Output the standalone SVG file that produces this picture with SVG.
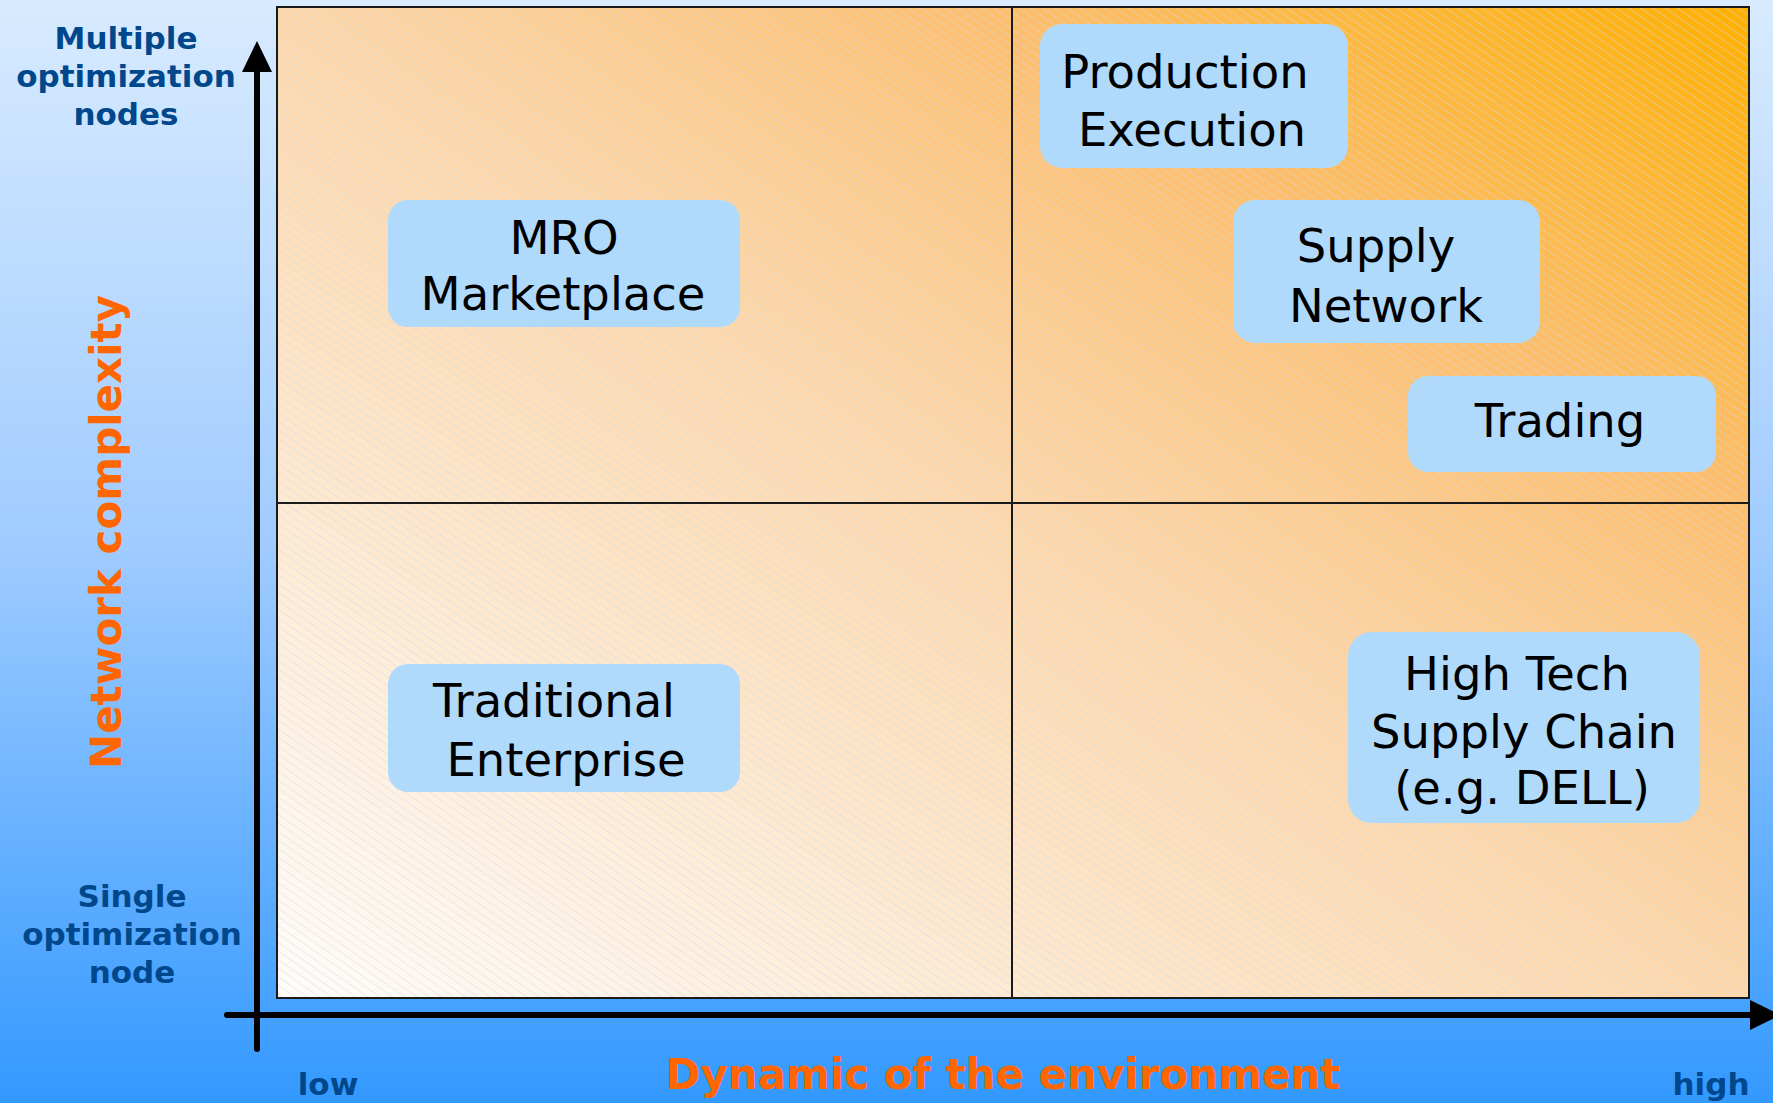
<svg xmlns="http://www.w3.org/2000/svg" width="1773" height="1103" viewBox="0 0 1773 1103">
  <defs>
    <linearGradient id="bg" x1="0" y1="0" x2="0" y2="1">
      <stop offset="0" stop-color="#d8ebff"/>
      <stop offset="0.5" stop-color="#9fcbff"/>
      <stop offset="1" stop-color="#3399ff"/>
    </linearGradient>
    <linearGradient id="chart" x1="0" y1="1" x2="1" y2="0">
      <stop offset="0" stop-color="#fffcf9"/>
      <stop offset="0.5" stop-color="#fdd7aa"/>
      <stop offset="0.75" stop-color="#fdbe6c"/>
      <stop offset="1" stop-color="#ffb000"/>
    </linearGradient>
    <pattern id="hatch" width="7" height="7" patternUnits="userSpaceOnUse" patternTransform="rotate(35)">
      <line x1="0" y1="3.5" x2="7" y2="3.5" stroke="#c8dcf0" stroke-width="1" stroke-opacity="0.45"/>
    </pattern>
    <marker id="arrow" markerUnits="userSpaceOnUse" markerWidth="32" markerHeight="32" refX="0" refY="15" orient="auto">
      <path d="M0,0 L31,15 L0,30 Z" fill="#000"/>
    </marker>
    <style>
      .node rect { fill: #b0dafc; }
      .node text { font-family: "DejaVu Sans", Verdana, sans-serif; font-size: 46.5px; fill: #000; text-anchor: middle; }
      .lbl { font-family: "DejaVu Sans", Verdana, sans-serif; font-weight: bold; font-size: 31px; fill: #00478c; text-anchor: middle; }
      .title { font-family: "DejaVu Sans", Verdana, sans-serif; font-weight: bold; font-size: 42px; fill: #ff6600; text-anchor: middle; }
      .axis { stroke: #000; stroke-width: 6; stroke-linecap: round; fill: none; }
    </style>
  </defs>

  <rect x="0" y="0" width="1773" height="1103" fill="url(#bg)"/>

  <g id="chart-area">
    <rect x="277" y="7" width="1472" height="991" fill="url(#chart)"/>
    <rect x="277" y="7" width="1472" height="991" fill="url(#hatch)"/>
    <rect x="277" y="7" width="1472" height="991" fill="none" stroke="#1a1a1a" stroke-width="2"/>
    <line x1="1012" y1="7" x2="1012" y2="998" stroke="#1a1a1a" stroke-width="2"/>
    <line x1="277" y1="503" x2="1749" y2="503" stroke="#1a1a1a" stroke-width="2"/>
  </g>

  <g id="connectors">
    <line class="axis" x1="257" y1="1049" x2="257" y2="72" marker-end="url(#arrow)"/>
    <line class="axis" x1="227" y1="1015" x2="1750" y2="1015" marker-end="url(#arrow)"/>
  </g>

  <g id="axis-labels">
    <text class="lbl" x="126" y="49">Multiple</text>
    <text class="lbl" x="126" y="87">optimization</text>
    <text class="lbl" x="126" y="125">nodes</text>
    <text class="lbl" x="132" y="907">Single</text>
    <text class="lbl" x="132" y="945">optimization</text>
    <text class="lbl" x="132" y="983">node</text>
    <text class="lbl" x="328" y="1095">low</text>
    <text class="lbl" x="1711" y="1095">high</text>
    <text class="title" transform="translate(121,532) rotate(-90)">Network complexity</text>
    <text class="title" x="1003" y="1089">Dynamic of the environment</text>
  </g>

  <g id="node-mro" class="node">
    <rect x="388" y="200" width="352" height="127" rx="20"/>
    <text x="564" y="254">MRO</text>
    <text x="563" y="310">Marketplace</text>
  </g>

  <g id="node-production" class="node">
    <rect x="1040" y="24" width="308" height="144" rx="22"/>
    <text x="1185" y="88">Production</text>
    <text x="1192" y="146">Execution</text>
  </g>

  <g id="node-supply" class="node">
    <rect x="1233" y="200" width="307" height="143" rx="22"/>
    <text x="1376" y="262">Supply</text>
    <text x="1386" y="322">Network</text>
  </g>

  <g id="node-trading" class="node">
    <rect x="1408" y="376" width="308" height="96" rx="20"/>
    <text x="1560" y="437">Trading</text>
  </g>

  <g id="node-traditional" class="node">
    <rect x="388" y="664" width="352" height="128" rx="20"/>
    <text x="554" y="717">Traditional</text>
    <text x="566" y="776">Enterprise</text>
  </g>

  <g id="node-hightech" class="node">
    <rect x="1348" y="632" width="352" height="191" rx="24"/>
    <text x="1517" y="690">High Tech</text>
    <text x="1524" y="748">Supply Chain</text>
    <text x="1522" y="804">(e.g. DELL)</text>
  </g>
</svg>
